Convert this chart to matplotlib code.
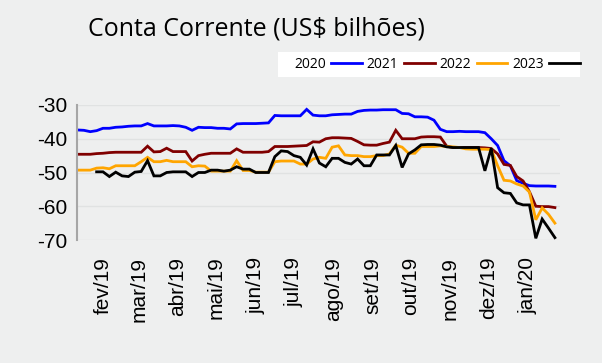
import numpy as np
import pandas as pd
import matplotlib
matplotlib.use("Agg")
import matplotlib.pyplot as plt
from matplotlib.patches import Rectangle
from datetime import datetime

# ---- data -------------------------------------------------------------
dates = pd.date_range("2019-01-12", periods=76, freq="5D")

s2020 = [-37.4, -37.5, -37.9, -37.6, -36.9, -36.9, -36.6, -36.5, -36.3, -36.2,
         -36.2, -35.5, -36.2, -36.2, -36.2, -36.1, -36.2, -36.6, -37.5, -36.6,
         -36.7, -36.7, -36.9, -36.9, -37.1, -35.6, -35.5, -35.5, -35.5, -35.4,
         -35.3, -33.1, -33.2, -33.2, -33.2, -33.2, -31.3, -33.0, -33.2, -33.2,
         -32.9, -32.8, -32.7, -32.7, -31.9, -31.6, -31.5, -31.5, -31.4, -31.4,
         -31.4, -32.5, -32.6, -33.5, -33.5, -33.6, -34.5, -37.2, -37.9, -37.9,
         -37.8, -37.9, -37.9, -37.9, -38.2, -40.0, -42.0, -46.5, -48.0, -52.4,
         -53.2, -53.9, -54.0, -54.0, -54.0, -54.1]

s2021 = [-44.6, -44.6, -44.6, -44.4, -44.3, -44.1, -44.0, -44.0, -44.0, -44.0,
         -44.0, -42.2, -43.9, -43.8, -42.8, -43.8, -43.8, -43.8, -46.6, -45.0,
         -44.6, -44.3, -44.3, -44.3, -44.3, -43.0, -44.0, -44.0, -44.0, -44.0,
         -43.8, -42.3, -42.3, -42.3, -42.2, -42.1, -42.0, -40.9, -41.0, -40.0,
         -39.7, -39.7, -39.8, -39.9, -40.8, -41.8, -41.9, -41.9, -41.4, -41.0,
         -37.5, -40.0, -40.0, -40.0, -39.5, -39.4, -39.4, -39.5, -42.2, -42.6,
         -42.6, -42.6, -42.6, -42.6, -42.7, -42.9, -44.5, -47.6, -47.9, -51.2,
         -52.5, -55.7, -60.0, -60.1, -60.1, -60.4]

s2022 = [-49.3, -49.3, -49.3, -48.7, -48.6, -48.9, -48.0, -48.0, -48.0, -48.0,
         -46.8, -45.5, -46.8, -46.8, -46.4, -46.8, -46.8, -46.8, -48.3, -48.0,
         -48.1, -49.6, -49.6, -49.6, -49.6, -46.5, -49.4, -49.4, -49.9, -49.9,
         -49.9, -46.8, -46.6, -46.6, -46.6, -47.5, -47.5, -46.0, -45.5, -45.8,
         -42.5, -42.1, -44.8, -45.0, -45.0, -45.3, -45.3, -45.0, -45.0, -44.5,
         -41.9, -42.5, -44.3, -44.3, -42.3, -42.3, -42.3, -42.1, -42.3, -42.4,
         -42.6, -43.0, -43.1, -43.1, -43.1, -43.2, -48.0, -52.3, -52.5, -53.4,
         -54.0, -55.8, -64.0, -60.5, -62.4, -65.0]

s2023 = [np.nan, np.nan, np.nan, -49.8, -49.8, -51.2, -49.9, -51.0, -51.2, -49.9,
         -49.7, -46.5, -51.0, -51.0, -50.0, -49.8, -49.8, -49.8, -51.2, -50.0,
         -50.0, -49.3, -49.3, -49.6, -49.3, -48.3, -49.0, -49.0, -50.0, -50.0,
         -50.0, -45.3, -43.6, -43.8, -45.0, -45.5, -47.8, -43.0, -47.2, -48.3,
         -45.8, -45.8, -47.0, -47.5, -46.0, -48.0, -48.0, -44.8, -44.8, -44.8,
         -42.0, -48.5, -44.5, -43.3, -41.8, -41.7, -41.7, -41.9, -42.4, -42.6,
         -42.6, -42.6, -42.6, -42.6, -49.5, -42.8, -54.5, -56.0, -56.2, -59.0,
         -59.6, -59.6, -69.5, -63.8, -66.5, -69.3]

series_names = ["2020", "2021", "2022", "2023"]
series_colors = ["#0000FF", "#800000", "#FFA500", "#000000"]

tick_dates = pd.date_range("2019-02-01", periods=12, freq="MS")
tick_labels = ["fev/19", "mar/19", "abr/19", "mai/19", "jun/19", "jul/19",
               "ago/19", "set/19", "out/19", "nov/19", "dez/19", "jan/20"]
y_ticks = [-30, -40, -50, -60, -70]

# ---- figure -----------------------------------------------------------
BG = "#eeefef"
fig = plt.figure(figsize=(6.02, 3.63), dpi=100, facecolor=BG)
ax = fig.add_axes([77/602, 1-240/363, (560-77)/602, (240-105)/363])
ax.set_facecolor(BG)

for vals, name, col in zip([s2020, s2021, s2022, s2023], series_names, series_colors):
    ax.plot(dates, vals, color=col, lw=2.0, label=name, solid_joinstyle="miter")

ax.set_ylim(-70, -30)
ax.set_yticks(y_ticks)
ax.set_yticklabels([str(v) for v in y_ticks], fontsize=15, family="Liberation Sans")
ax.set_xlim(datetime(2019, 1, 11, 14), datetime(2020, 1, 26))
ax.set_xticks(tick_dates)
ax.set_xticklabels(tick_labels, rotation=90, fontsize=15, family="Liberation Sans",
                   ha="center", va="top")
ax.tick_params(axis="both", length=0)
ax.tick_params(axis="y", pad=7)
ax.tick_params(axis="x", pad=12)
ax.grid(axis="y", color="#e0e2e2", lw=1.0)
ax.set_axisbelow(True)
for side in ["top", "right", "bottom"]:
    ax.spines[side].set_visible(False)
ax.spines["left"].set_color("#a6a6a6")
ax.spines["left"].set_linewidth(1.5)

fig.text(256/602, 1-29/363, "Conta Corrente (US$ bilhões)", ha="center", va="center",
         fontsize=18, family="Open Sans")

fig.patches.append(Rectangle((278/602, 1-77/363), 302/602, 25/363,
                             transform=fig.transFigure, facecolor="white",
                             edgecolor="none", zorder=1))
leg = fig.legend(loc="center", bbox_to_anchor=(437/602, 1-64.5/363), ncol=4,
                 markerfirst=False, frameon=False,
                 prop={"family": "Open Sans", "size": 10},
                 handlelength=2.2, handletextpad=0.4, columnspacing=0.35,
                 borderpad=0.0)
leg.set_zorder(2)

fig.savefig("out.png", dpi=100, facecolor=BG)
